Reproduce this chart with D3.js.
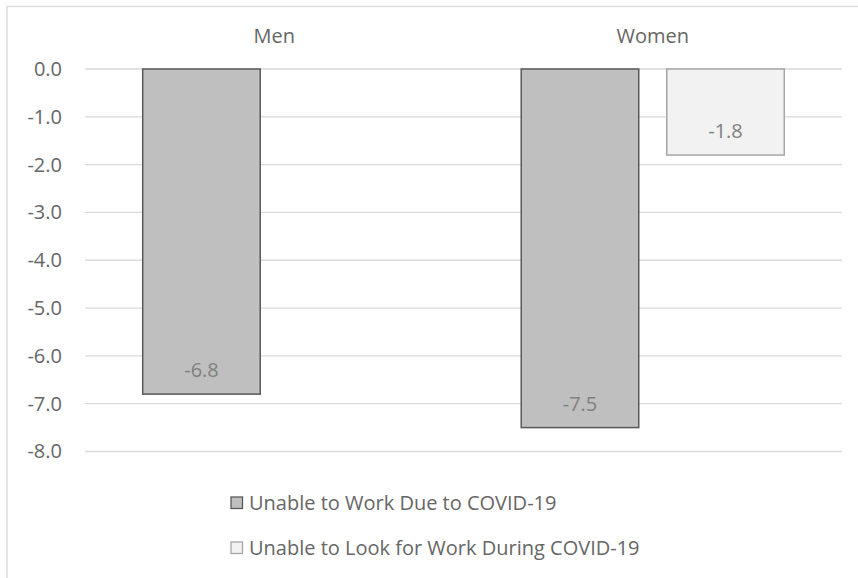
<!DOCTYPE html>
<html>
<head>
<meta charset="utf-8">
<script src="https://cdn.jsdelivr.net/npm/d3@7"></script>
<style>
  body { margin: 0; background: #fff; }
  text { font-family: "Open Sans", sans-serif; }
</style>
</head>
<body>
<div id="chart"></div>
<script>
var categories = ["Men", "Women"];
var seriesNames = ["Unable to Work Due to COVID-19", "Unable to Look for Work During COVID-19"];
var workValues = [-6.8, -7.5];
var lookValues = [null, -1.8];
var yTicks = [0, -1, -2, -3, -4, -5, -6, -7, -8];

var fills = ["#bfbfbf", "#f2f2f2"];
var strokes = ["#595959", "#a6a6a6"];
var textColor = "#666666";
var fontSize = 20;

var width = 858, height = 578;

var svg = d3.select("#chart").append("svg")
    .attr("width", width)
    .attr("height", height);

// chart frame
svg.append("rect")
    .attr("x", 7).attr("y", 6.5)
    .attr("width", 880).attr("height", 600)
    .attr("fill", "#fff")
    .attr("stroke", "#d9d9d9")
    .attr("stroke-width", 1.3);

var x0 = d3.scaleBand()
    .domain(categories)
    .range([85, 842])
    .paddingInner(0.305)
    .paddingOuter(0.1525);

var x1 = d3.scaleBand()
    .domain(seriesNames)
    .range([0, x0.bandwidth()])
    .paddingInner(0.1924)
    .paddingOuter(0);

var y = d3.scaleLinear()
    .domain([-8, 0])
    .range([451.5, 69]);

var fmt = function(d) { return d3.format(".1f")(d).replace("−", "-"); };

// gridlines
svg.append("g").selectAll("line")
    .data(yTicks)
  .enter().append("line")
    .attr("x1", 85).attr("x2", 842)
    .attr("y1", function(d) { return y(d); })
    .attr("y2", function(d) { return y(d); })
    .attr("stroke", "#d9d9d9")
    .attr("stroke-width", 1.3);

// y axis labels
var yAxis = d3.axisLeft(y).tickValues(yTicks).tickSize(0).tickPadding(0)
    .tickFormat(fmt);
var yg = svg.append("g")
    .attr("transform", "translate(62,0)")
    .call(yAxis);
yg.select(".domain").remove();
yg.selectAll("text")
    .attr("font-family", "Open Sans")
    .attr("font-size", fontSize)
    .attr("fill", textColor);

// category labels at the top
svg.append("g").selectAll("text")
    .data(categories)
  .enter().append("text")
    .attr("x", function(d) { return x0(d) + x0.bandwidth() / 2; })
    .attr("y", 43)
    .attr("text-anchor", "middle")
    .attr("font-size", fontSize)
    .attr("fill", textColor)
    .text(function(d) { return d; });

var rows = [];
categories.forEach(function(c, i) {
    rows.push({cat: c, s: 0, v: workValues[i]});
    rows.push({cat: c, s: 1, v: lookValues[i]});
});
rows = rows.filter(function(d) { return d.v != null; });

svg.append("g").selectAll("rect")
    .data(rows)
  .enter().append("rect")
    .attr("x", function(d) { return x0(d.cat) + x1(seriesNames[d.s]); })
    .attr("y", y(0))
    .attr("width", x1.bandwidth())
    .attr("height", function(d) { return y(d.v) - y(0); })
    .attr("fill", function(d) { return fills[d.s]; })
    .attr("stroke", function(d) { return strokes[d.s]; })
    .attr("stroke-width", 1.5);

// data labels, inside end
svg.append("g").selectAll("text")
    .data(rows)
  .enter().append("text")
    .attr("x", function(d) { return x0(d.cat) + x1(seriesNames[d.s]) + x1.bandwidth() / 2; })
    .attr("y", function(d) { return y(d.v) - 17; })
    .attr("text-anchor", "middle")
    .attr("font-size", fontSize)
    .attr("fill", "#808080")
    .text(function(d) { return fmt(d.v); });

// legend
var legend = svg.append("g").selectAll("g")
    .data(seriesNames)
  .enter().append("g")
    .attr("transform", function(d, i) { return "translate(231," + (497 + i * 45) + ")"; });

legend.append("rect")
    .attr("width", 11.5).attr("height", 11.5)
    .attr("fill", function(d, i) { return fills[i]; })
    .attr("stroke", function(d, i) { return strokes[i]; })
    .attr("stroke-width", 1.3);

legend.append("text")
    .attr("x", 18)
    .attr("y", 13)
    .attr("font-size", fontSize)
    .attr("fill", textColor)
    .text(function(d) { return d; });
</script>
</body>
</html>
